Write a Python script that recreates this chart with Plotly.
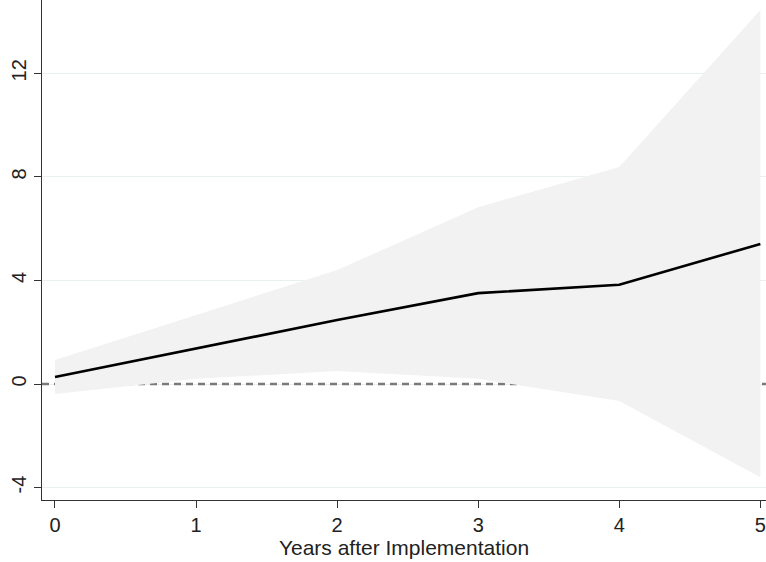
import plotly.graph_objects as go

years = [0, 1, 2, 3, 4, 5]
estimate = [0.27, 1.37, 2.47, 3.51, 3.83, 5.41]
ci_upper = [0.93, 2.65, 4.4, 6.83, 8.38, 14.44]
ci_lower = [-0.39, 0.2, 0.5, 0.2, -0.66, -3.6]
y_ticks = [-4, 0, 4, 8, 12]
y_tick_labels = ["-4", "0", "4", "8", "12"]
x_ticks = [0, 1, 2, 3, 4, 5]
x_range = [-0.092, 5.04]

font = "Liberation Sans, Arial, sans-serif"

fig = go.Figure()
fig.add_trace(go.Scatter(x=x_range, y=[0, 0], mode="lines",
                         line=dict(color="#7a7a7a", width=2.4, dash="7px,5px"),
                         showlegend=False, hoverinfo="skip"))
fig.add_trace(go.Scatter(x=years, y=ci_upper, mode="lines", line=dict(width=0, color="#f2f2f2"),
                         showlegend=False, hoverinfo="skip"))
fig.add_trace(go.Scatter(x=years, y=ci_lower, mode="lines", line=dict(width=0, color="#f2f2f2"),
                         fill="tonexty", fillcolor="#f2f2f2", showlegend=False, hoverinfo="skip"))
fig.add_trace(go.Scatter(x=years, y=estimate, mode="lines", line=dict(width=2.6, color="black"),
                         showlegend=False))

fig.update_layout(
    width=766, height=562,
    margin=dict(l=42, r=0, t=0, b=62),
    plot_bgcolor="white", paper_bgcolor="white",
    font=dict(family=font, size=20, color="#222"),
    xaxis=dict(range=x_range, tickvals=x_ticks, showgrid=False, zeroline=False,
               showline=True, linecolor="#333", linewidth=1.3, ticks="outside", ticklen=7,
               tickcolor="#333", tickwidth=1.3, tickfont=dict(size=20),
               title=dict(text="Years after Implementation", standoff=0, font=dict(size=21))),
    yaxis=dict(range=[-4.48, 14.83], tickvals=y_ticks, ticktext=y_tick_labels,
               showgrid=True, gridcolor="#e8f0f2", tickfont=dict(size=20),
               gridwidth=1.2, zeroline=False, showline=True, linecolor="#333", linewidth=1.3,
               ticks="outside", ticklen=7, tickcolor="#333", tickwidth=1.3, tickangle=-90),
)

fig.write_html("out.html")
